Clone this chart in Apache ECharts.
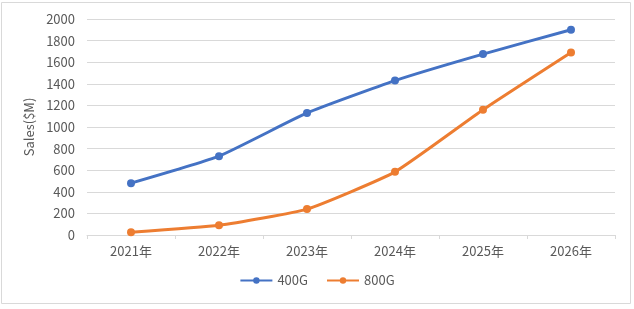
<!DOCTYPE html>
<html><head><meta charset="utf-8">
<script src="https://cdn.jsdelivr.net/npm/echarts@6/dist/echarts.min.js"></script>
<style>html,body{margin:0;padding:0;background:#fff}#c{width:634px;height:309px}</style>
</head><body><div id="c"></div>
<script>
const categories = ['2021年','2022年','2023年','2024年','2025年','2026年'];
const sales400G = [480, 730, 1130, 1430, 1675, 1900];
const sales800G = [25, 90, 240, 585, 1160, 1690];
const seriesNames = ['400G','800G'];
const yTicks = {min: 0, max: 2000, interval: 200};

const font = '"Noto Sans CJK SC", "Noto Sans", sans-serif';
const chart = echarts.init(document.getElementById('c'), null, {renderer:'canvas'});
chart.setOption({
  animation:false,
  textStyle:{fontFamily:font},
  graphic:[{type:'rect', shape:{x:1.5,y:2.5,width:629,height:301}, style:{fill:'none', stroke:'#d9d9d9', lineWidth:1}, silent:true}],
  grid:{left:87, right:19, top:19, bottom:74},
  legend:{
    data:seriesNames, bottom:17, left:'center', itemWidth:32, itemHeight:8, itemGap:18,
    textStyle:{color:'#595959', fontSize:13, fontFamily:font}
  },
  xAxis:{
    type:'category', data:categories, boundaryGap:true,
    axisLine:{lineStyle:{color:'#d9d9d9', width:1}},
    axisTick:{show:true, length:4, lineStyle:{color:'#d9d9d9'}},
    axisLabel:{color:'#595959', fontSize:13, margin:10, fontFamily:font}
  },
  yAxis:{
    type:'value', min:yTicks.min, max:yTicks.max, interval:yTicks.interval,
    name:'Sales($M)', nameLocation:'middle', nameGap:46, nameRotate:90,
    nameTextStyle:{color:'#595959', fontSize:13, fontFamily:font},
    axisLine:{show:false}, axisTick:{show:false},
    axisLabel:{color:'#595959', fontSize:13, margin:12, fontFamily:font, formatter:v => String(v)},
    splitLine:{lineStyle:{color:'#d9d9d9', width:1}}
  },
  series:[
    {name:seriesNames[0], type:'line', data:sales400G, smooth:0.15, symbol:'circle', symbolSize:8,
     lineStyle:{color:'#4472C4', width:3}, itemStyle:{color:'#4472C4'}},
    {name:seriesNames[1], type:'line', data:sales800G, smooth:0.15, symbol:'circle', symbolSize:8,
     lineStyle:{color:'#ED7D31', width:3}, itemStyle:{color:'#ED7D31'}}
  ]
});
</script></body></html>
